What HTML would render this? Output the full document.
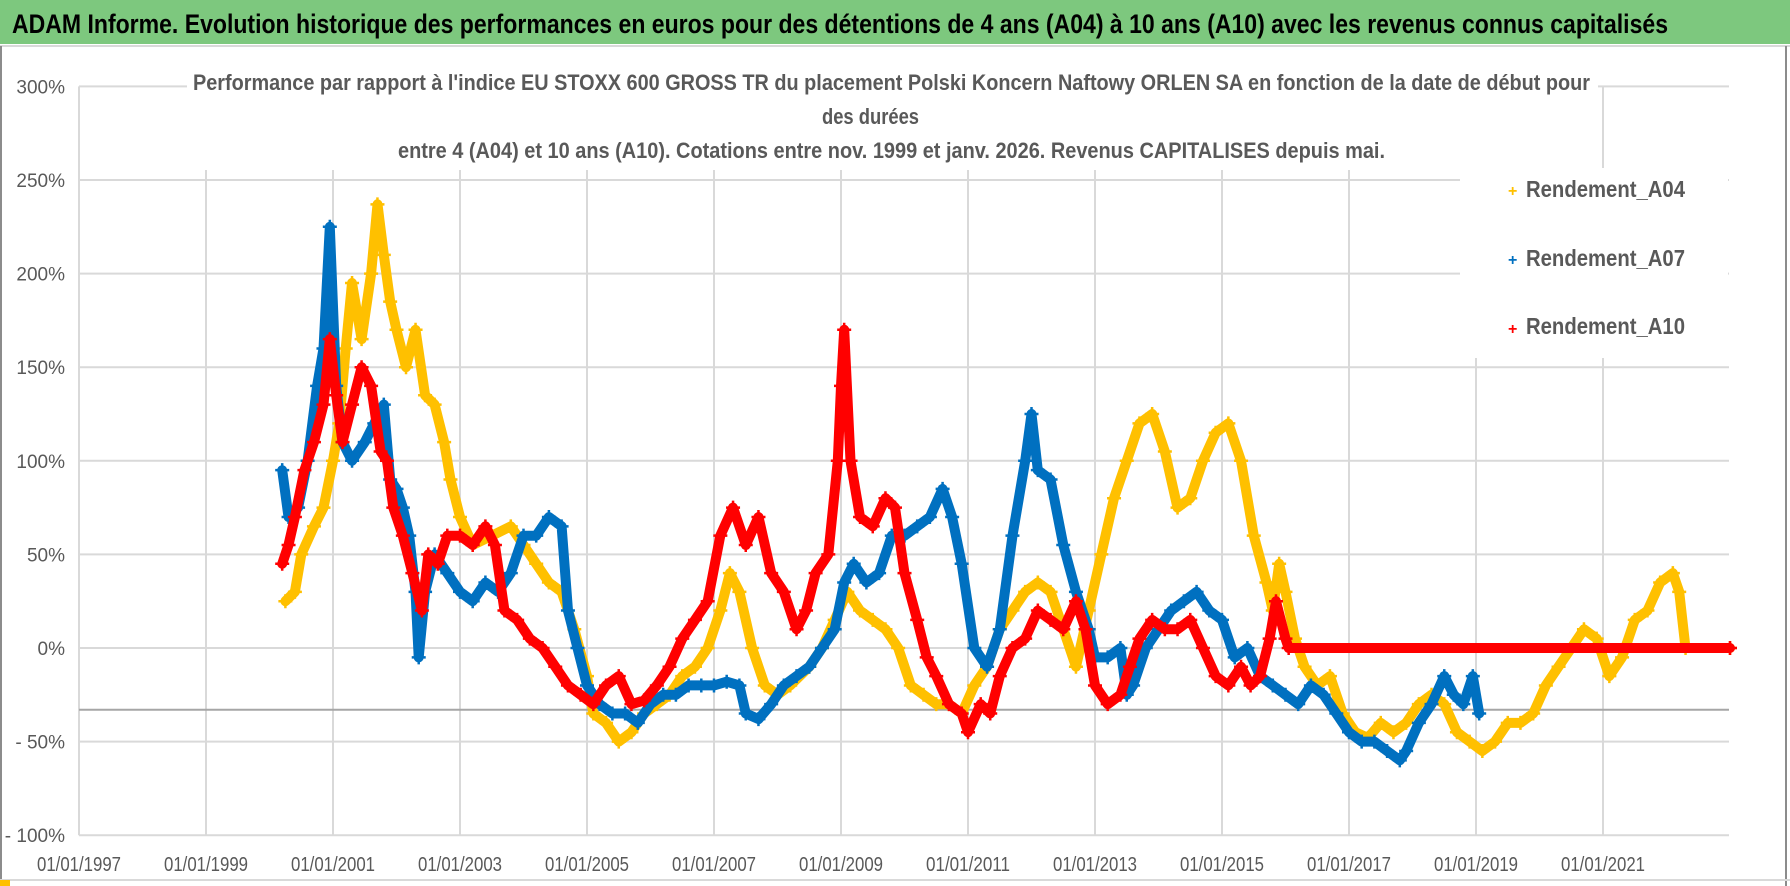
<!DOCTYPE html>
<html><head><meta charset="utf-8"><style>
html,body{margin:0;padding:0;background:#fff;}
svg{display:block;font-family:"Liberation Sans",sans-serif;}
</style></head><body>
<svg id="chart" width="1790" height="886" viewBox="0 0 1790 886" xmlns="http://www.w3.org/2000/svg">
<rect x="0" y="0" width="1790" height="886" fill="#fff"/>
<rect x="0" y="0" width="1790" height="44" fill="#7DC87E"/>
<line x1="0" y1="46" x2="1790" y2="46" stroke="#d9d9d9" stroke-width="2"/>
<line x1="1" y1="46" x2="1" y2="886" stroke="#8c8c8c" stroke-width="2"/>
<line x1="1786" y1="46" x2="1786" y2="886" stroke="#8c8c8c" stroke-width="2"/>
<line x1="0" y1="880" x2="1790" y2="880" stroke="#d9d9d9" stroke-width="2"/>
<rect x="0" y="880" width="10" height="6" fill="#FFC000"/>
<text x="12" y="33" font-size="27" font-weight="bold" fill="#000" textLength="1656" lengthAdjust="spacingAndGlyphs">ADAM Informe. Evolution historique des performances en euros pour des détentions de 4 ans (A04) à 10 ans (A10) avec les revenus connus capitalisés</text>
<g id="grid"></g>
<g id="axes"></g>
<rect x="187" y="66" width="1411" height="104" fill="#fff"/>
<g font-weight="bold" font-size="22" fill="#595959">
<text x="193" y="90" textLength="1397" lengthAdjust="spacingAndGlyphs">Performance par rapport à l'indice EU STOXX 600 GROSS TR  du placement Polski Koncern Naftowy ORLEN SA en fonction de la date de début pour</text>
<text x="822" y="124" textLength="97" lengthAdjust="spacingAndGlyphs">des durées</text>
<text x="398" y="158" textLength="987" lengthAdjust="spacingAndGlyphs">entre 4 (A04) et 10 ans (A10). Cotations entre nov. 1999 et janv. 2026. Revenus CAPITALISES depuis mai.</text>
</g>
<g id="series"></g>
<rect x="1460" y="168" width="268" height="190" fill="#fff"/>
<g font-weight="bold" font-size="23" fill="#595959">
<g><text x="1508" y="196" font-size="16" fill="#FFC000">+</text><text x="1526" y="197" textLength="159" lengthAdjust="spacingAndGlyphs">Rendement_A04</text></g>
<g><text x="1508" y="265" font-size="16" fill="#0070C0">+</text><text x="1526" y="266" textLength="159" lengthAdjust="spacingAndGlyphs">Rendement_A07</text></g>
<g><text x="1508" y="334" font-size="16" fill="#FF0000">+</text><text x="1526" y="334" textLength="159" lengthAdjust="spacingAndGlyphs">Rendement_A10</text></g>
</g>
</svg>
<script>
const yTicks = [300,250,200,150,100,50,0,-50,-100];
const yTickLabels = ["300%","250%","200%","150%","100%","50%","0%","- 50%","- 100%"];
const xTicks = [1997,1999,2001,2003,2005,2007,2009,2011,2013,2015,2017,2019,2021];
const xTickLabels = ["01/01/1997","01/01/1999","01/01/2001","01/01/2003","01/01/2005","01/01/2007","01/01/2009","01/01/2011","01/01/2013","01/01/2015","01/01/2017","01/01/2019","01/01/2021"];
const refLineValue = -33;

const a04Years = [2000.25,2000.4,2000.5,2000.7,2000.85,2001.0,2001.1,2001.2,2001.3,2001.45,2001.6,2001.7,2001.8,2001.9,2002.0,2002.15,2002.3,2002.45,2002.6,2002.75,2002.85,2003.0,2003.2,2003.5,2003.8,2004.0,2004.2,2004.4,2004.6,2004.8,2005.0,2005.1,2005.3,2005.5,2005.7,2005.9,2006.1,2006.3,2006.5,2006.7,2006.9,2007.1,2007.25,2007.4,2007.6,2007.8,2008.0,2008.2,2008.5,2008.7,2008.9,2009.1,2009.3,2009.5,2009.7,2009.9,2010.1,2010.3,2010.5,2010.7,2010.9,2011.1,2011.3,2011.5,2011.7,2011.9,2012.1,2012.3,2012.5,2012.7,2012.9,2013.1,2013.3,2013.5,2013.7,2013.9,2014.1,2014.3,2014.5,2014.7,2014.9,2015.1,2015.3,2015.5,2015.7,2015.8,2015.9,2016.0,2016.15,2016.3,2016.5,2016.7,2016.9,2017.1,2017.3,2017.5,2017.7,2017.9,2018.1,2018.3,2018.5,2018.7,2018.9,2019.1,2019.3,2019.5,2019.7,2019.9,2020.1,2020.3,2020.5,2020.7,2020.9,2021.1,2021.3,2021.5,2021.7,2021.9,2022.1,2022.2,2022.3,2023.0];
const a04Values = [25,30,50,65,75,100,120,160,195,165,200,237,210,185,170,150,170,135,130,110,90,70,55,60,65,55,45,35,30,10,-15,-35,-40,-50,-45,-35,-30,-25,-15,-10,0,20,40,30,0,-20,-25,-20,-10,0,15,30,20,15,10,0,-20,-25,-30,-30,-35,-20,-10,10,20,30,35,30,10,-10,20,50,80,100,120,125,105,75,80,100,115,120,100,60,35,20,45,30,5,-10,-20,-15,-35,-45,-48,-40,-45,-40,-30,-25,-30,-45,-50,-55,-50,-40,-40,-35,-20,-10,0,10,5,-15,-5,15,20,35,40,30,0,0];

const a07Years = [2000.2,2000.3,2000.45,2000.6,2000.75,2000.85,2000.95,2001.05,2001.15,2001.3,2001.5,2001.65,2001.8,2001.9,2002.0,2002.1,2002.2,2002.3,2002.35,2002.45,2002.6,2002.8,2003.0,2003.2,2003.4,2003.6,2003.8,2004.0,2004.2,2004.4,2004.6,2004.7,2004.85,2005.0,2005.2,2005.4,2005.6,2005.8,2006.0,2006.2,2006.4,2006.6,2006.8,2007.0,2007.2,2007.4,2007.5,2007.7,2007.9,2008.1,2008.3,2008.5,2008.7,2008.9,2009.05,2009.2,2009.4,2009.6,2009.8,2010.0,2010.2,2010.4,2010.6,2010.75,2010.9,2011.1,2011.3,2011.5,2011.7,2011.9,2012.0,2012.1,2012.3,2012.5,2012.7,2012.9,2013.0,2013.2,2013.4,2013.5,2013.6,2013.8,2014.0,2014.2,2014.4,2014.6,2014.8,2015.0,2015.2,2015.4,2015.6,2015.8,2016.0,2016.2,2016.4,2016.6,2016.8,2017.0,2017.2,2017.4,2017.6,2017.8,2017.9,2018.1,2018.3,2018.5,2018.65,2018.8,2018.95,2019.05];
const a07Values = [95,70,75,100,140,160,225,140,110,100,110,120,130,90,85,75,60,30,-5,30,50,40,30,25,35,30,40,60,60,70,65,20,0,-20,-30,-35,-35,-40,-30,-25,-25,-20,-20,-20,-18,-20,-35,-38,-30,-20,-15,-10,0,10,35,45,35,40,60,60,65,70,85,70,45,0,-10,10,60,100,125,95,90,55,30,10,-5,-5,0,-25,-20,0,10,20,25,30,20,15,-5,0,-15,-20,-25,-30,-20,-25,-35,-45,-50,-50,-55,-60,-55,-40,-30,-15,-25,-30,-15,-35];

const a10Years = [2000.2,2000.3,2000.4,2000.55,2000.7,2000.85,2000.95,2001.05,2001.15,2001.3,2001.45,2001.6,2001.75,2001.85,2001.95,2002.1,2002.25,2002.4,2002.5,2002.65,2002.8,2003.0,2003.2,2003.4,2003.55,2003.7,2003.9,2004.1,2004.3,2004.5,2004.7,2004.9,2005.1,2005.3,2005.5,2005.7,2005.9,2006.1,2006.3,2006.5,2006.7,2006.9,2007.1,2007.3,2007.5,2007.7,2007.9,2008.1,2008.3,2008.45,2008.6,2008.8,2008.95,2009.0,2009.05,2009.15,2009.3,2009.5,2009.7,2009.85,2010.0,2010.2,2010.35,2010.5,2010.7,2010.9,2011.0,2011.2,2011.35,2011.5,2011.7,2011.9,2012.1,2012.3,2012.5,2012.7,2012.85,2013.0,2013.2,2013.4,2013.55,2013.7,2013.9,2014.1,2014.3,2014.5,2014.7,2014.9,2015.1,2015.3,2015.45,2015.6,2015.75,2015.85,2016.0,2016.05,2023.0];
const a10Values = [45,55,70,95,110,130,165,135,110,130,150,140,105,100,75,60,40,20,50,45,60,60,55,65,55,20,15,5,0,-10,-20,-25,-30,-20,-15,-30,-28,-20,-10,5,15,25,60,75,55,70,40,30,10,20,40,50,100,140,170,100,70,65,80,75,40,15,-5,-15,-30,-35,-45,-30,-35,-15,0,5,20,15,10,25,10,-20,-30,-25,-10,5,15,10,10,15,0,-15,-20,-10,-20,-15,5,25,5,0,0];

const X0 = 79, XPY = 63.5, Y0 = 648, YPV = 1.872, XR = 1729;
const xs = yr => X0 + (yr - 1997) * XPY;
const ys = v => Y0 - v * YPV;
const NS = "http://www.w3.org/2000/svg";
function mk(tag, attrs, parent) {
  const el = document.createElementNS(NS, tag);
  for (const k in attrs) el.setAttribute(k, attrs[k]);
  parent.appendChild(el);
  return el;
}
const grid = document.getElementById('grid');
const axes = document.getElementById('axes');
yTicks.forEach((v, i) => {
  const l = mk('line', {x1: X0, x2: XR, y1: ys(v), y2: ys(v), stroke: '#d9d9d9', 'stroke-width': 2}, grid);
  
  
  const t = mk('text', {x: 65, y: ys(v) + 7, 'text-anchor': 'end', 'font-size': 19, fill: '#595959'}, axes);
  t.textContent = yTickLabels[i];
  
  
});
xTicks.forEach((yr, i) => {
  const l = mk('line', {x1: xs(yr), x2: xs(yr), y1: ys(300), y2: ys(-100), stroke: '#d9d9d9', 'stroke-width': 2}, grid);
  
  
  const t = mk('text', {x: xs(yr), y: 871, 'text-anchor': 'middle', 'font-size': 20, fill: '#595959', textLength: 84, lengthAdjust: 'spacingAndGlyphs'}, axes);
  t.textContent = xTickLabels[i];
  
  
});
const rl = mk('line', {x1: X0, x2: XR, y1: ys(refLineValue), y2: ys(refLineValue), stroke: '#a6a6a6', 'stroke-width': 2}, grid);



const seriesG = document.getElementById('series');
function drawSeries(years, values, color, name) {
  const g = mk('g', {}, seriesG);
  
  
  const d = years.map((yr, i) => (i ? 'L' : 'M') + xs(yr).toFixed(1) + ' ' + ys(values[i]).toFixed(1)).join(' ');
  mk('path', {d: d, fill: 'none', stroke: color, 'stroke-width': 10, 'stroke-linejoin': 'round', 'stroke-linecap': 'round'}, g);
  years.forEach((yr, i) => {
    const x = xs(yr), y = ys(values[i]);
    const p = mk('path', {d: `M${x-7} ${y}H${x+7}M${x} ${y-7}V${y+7}`, stroke: color, 'stroke-width': 2.5}, g);
    
    
  });
}
drawSeries(a04Years, a04Values, '#FFC000', 'series-a04');
drawSeries(a07Years, a07Values, '#0070C0', 'series-a07');
drawSeries(a10Years, a10Values, '#FF0000', 'series-a10');
</script>
</body></html>
